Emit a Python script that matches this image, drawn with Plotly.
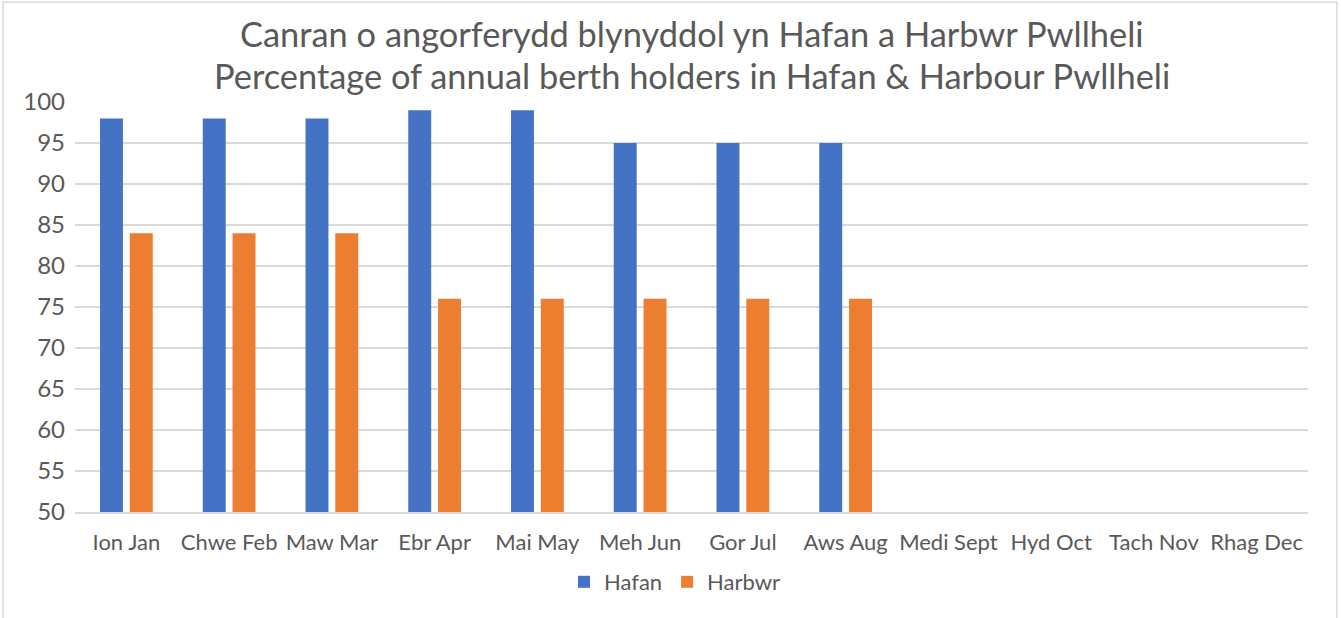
import plotly.graph_objects as go

categories = ["Ion Jan", "Chwe Feb", "Maw Mar", "Ebr Apr", "Mai May", "Meh Jun",
              "Gor Jul", "Aws Aug", "Medi Sept", "Hyd Oct", "Tach Nov", "Rhag Dec"]
hafan = [98, 98, 98, 99, 99, 95, 95, 95, None, None, None, None]
harbwr = [84, 84, 84, 76, 76, 76, 76, 76, None, None, None, None]
y_ticks = [50, 55, 60, 65, 70, 75, 80, 85, 90, 95, 100]
title_lines = ["Canran o angorferydd blynyddol yn Hafan a Harbwr Pwllheli",
               "Percentage of annual berth holders in Hafan & Harbour Pwllheli"]

W, H = 1341, 618
ml, mr, mt, mb = 75, 33, 102, 106
pw, ph = W - ml - mr, H - mt - mb

font = "Lato, 'Open Sans', sans-serif"
grey = "#595959"

fig = go.Figure()
fig.add_trace(go.Bar(x=categories, y=hafan, name="Hafan", marker_color="#4472C4",
                     marker_line_width=0))
fig.add_trace(go.Bar(x=categories, y=harbwr, name="Harbwr", marker_color="#ED7D31",
                     marker_line_width=0))

fig.update_layout(
    width=W, height=H,
    margin=dict(l=ml, r=mr, t=mt, b=mb, autoexpand=False),
    paper_bgcolor="white", plot_bgcolor="white",
    barmode="group", bargap=0.42, bargroupgap=0.23,
    font=dict(family=font, size=22, color=grey),
    legend=dict(orientation="h", x=0.503, xanchor="center", xref="container",
                y=1 - 582 / H, yanchor="middle", yref="container",
                font=dict(size=22, color=grey), traceorder="normal",
                itemwidth=30, tracegroupgap=0),
    showlegend=True,
)
for txt, py in zip(title_lines, [33, 76]):
    fig.add_annotation(text=txt, xref="paper", yref="paper", x=0.5,
                       y=(H - mb - py) / ph, xanchor="center", yanchor="middle",
                       showarrow=False, font=dict(family=font, size=34.4, color=grey))

fig.update_xaxes(showgrid=False, showline=True, linecolor="#d9d9d9", linewidth=1.5,
                 ticks="", tickangle=0, tickfont=dict(size=22, color=grey),
                 ticklabelstandoff=10, automargin=False)
fig.update_yaxes(range=[50, 100], tickvals=y_ticks, showgrid=True, gridcolor="#d9d9d9",
                 gridwidth=1.5, zeroline=False, showline=False, ticks="",
                 tickfont=dict(size=24, color=grey), ticklabelstandoff=9,
                 automargin=False)

# Chart border
fig.add_shape(type="rect", xref="paper", yref="paper",
              x0=(3 - ml) / pw, x1=(W - 4 - ml) / pw,
              y0=-(mb + 5) / ph, y1=1 + (mt - 2) / ph,
              line=dict(color="#d9d9d9", width=1.5), fillcolor="rgba(0,0,0,0)", layer="below")

fig.write_html("out.html", config={"displayModeBar": False},
               post_script="document.body.style.margin='0';document.body.style.overflow='hidden';")
